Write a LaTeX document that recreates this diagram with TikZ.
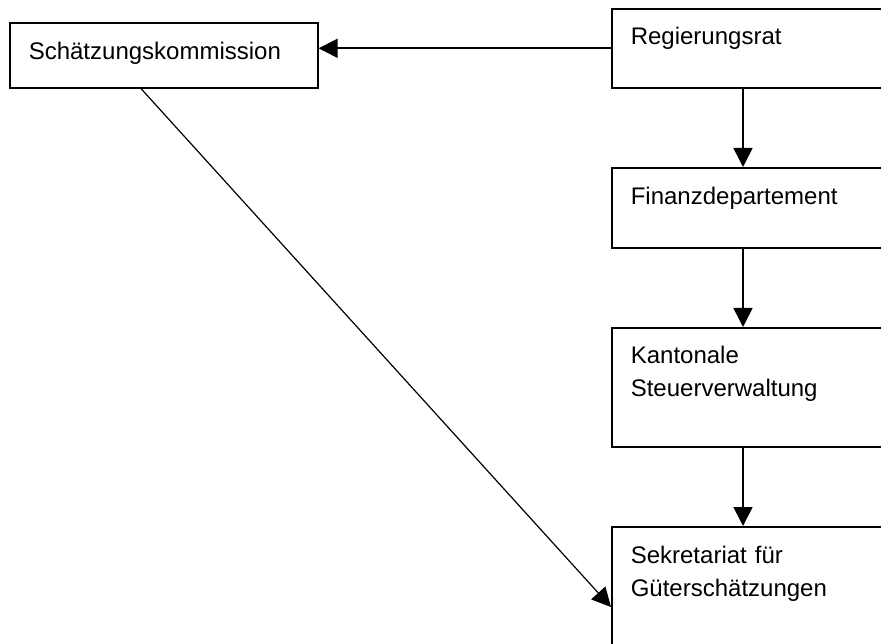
\documentclass[tikz,border=0pt]{standalone}
\usepackage{fontspec}
\setmainfont{Liberation Sans}
\usetikzlibrary{arrows.meta}
\usetikzlibrary{calc}

\begin{document}
\begin{tikzpicture}[x=1pt,y=-1pt]
        \tikzset{>={Triangle[length=19pt,width=19pt]}}
        \tikzset{amt/.style={draw=black,line width=1.6pt,rectangle,anchor=north west,align=left,
            inner xsep=19pt,inner ysep=0pt,font=\fontsize{24}{33}\selectfont}}
        \tikzset{pfeil/.style={->,line width=1.6pt}}
        \useasboundingbox (0,0) rectangle (881,644);
        \clip (0,0) rectangle (881,644);

        \node [amt, text width=270pt, text height=37pt, text depth=28pt] (sch) at (9,22) {Schätzungskommission};
        \node [amt, text width=262pt, text height=36pt, text depth=43pt] (reg) at (611,8) {Regierungsrat};
        \node [amt, text width=262pt, text height=37pt, text depth=43pt] (fin) at (611,167) {Finanzdepartement};
        \node [amt, text width=262pt, text height=36pt, text depth=83pt] (kan) at (611,327) {Kantonale\\Steuerverwaltung};
        \node [amt, text width=262pt, text height=37pt, text depth=140pt] (sek) at (611,526) {Sekretariat für\\Güterschätzungen};
        \coordinate (ax) at (743,0);

        \draw [pfeil] (reg.west) -- (sch.east |- reg.west);
        \draw [pfeil] (reg.south -| ax) -- (fin.north -| ax);
        \draw [pfeil] (fin.south -| ax) -- (kan.north -| ax);
        \draw [pfeil] (kan.south -| ax) -- (sek.north -| ax);
        \draw [->,line width=1.2pt] ($(sch.south west)+(132,0)$) -- ($(sek.north west)+(0,81)$);
\end{tikzpicture}
\end{document}
